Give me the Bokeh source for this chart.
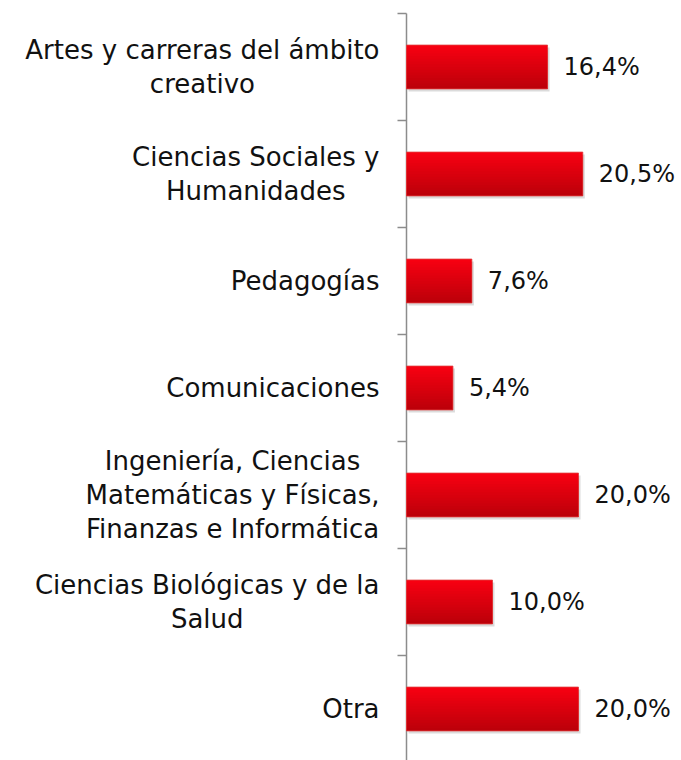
from bokeh.plotting import figure
from bokeh.models import Range1d, ColumnDataSource
from bokeh.core.properties import value
from bokeh.embed import file_html
from bokeh.resources import INLINE

categories = [
    "Artes y carreras del ámbito\ncreativo",
    "Ciencias Sociales y\nHumanidades",
    "Pedagogías",
    "Comunicaciones",
    "Ingeniería, Ciencias\nMatemáticas y Físicas,\nFinanzas e Informática",
    "Ciencias Biológicas y de la\nSalud",
    "Otra",
]
values = [16.4, 20.5, 7.6, 5.4, 20.0, 10.0, 20.0]
value_labels = ["16,4%", "20,5%", "7,6%", "5,4%", "20,0%", "10,0%", "20,0%"]

W, H = 681, 760
px_per_unit = 8.6
zero_px = 406
band_px = 107.0
top_px = 13

n = len(categories)
ypos = list(range(n))
x_range = Range1d(-zero_px / px_per_unit, (W - zero_px) / px_per_unit)
y_top = -0.5 - top_px / band_px
y_bottom = y_top + H / band_px
y_range = Range1d(start=y_bottom, end=y_top)

p = figure(width=W, height=H, x_range=x_range, y_range=y_range,
           x_axis_type=None, y_axis_type=None, toolbar_location=None,
           output_backend="svg", min_border=0)
p.grid.visible = False
p.outline_line_color = None
p.background_fill_color = "white"
p.border_fill_color = "white"

# axis line and ticks at band boundaries
bounds = [i - 0.5 for i in range(n + 1)]
tick_len = 9 / px_per_unit
p.segment(x0=[0], x1=[0], y0=[bounds[0]], y1=[bounds[-1] + 0.2], line_color="#8c8c8c", line_width=1.5)
p.segment(x0=[-tick_len] * len(bounds), x1=[0] * len(bounds), y0=bounds, y1=bounds,
          line_color="#8c8c8c", line_width=1.5)

bar_h = 0.41
# soft shadow
sh_dx = 2 / px_per_unit
sh_dy = 2.5 / band_px
p.hbar(y=[y + sh_dy for y in ypos], left=sh_dx, right=[v + sh_dx for v in values], height=bar_h,
       fill_color="#b0b0b0", fill_alpha=0.45, line_color=None)

# vertical gradient: overlapping strips, each extends to the bar bottom
steps = 16
c_top = (247, 0, 17)
c_bot = (188, 0, 10)
for k in range(steps):
    t = k / (steps - 1)
    col = "#%02x%02x%02x" % tuple(int(round(a + (b - a) * t)) for a, b in zip(c_top, c_bot))
    h = bar_h * (1 - k / steps)
    ys = [y + bar_h / 2 - h / 2 for y in ypos]
    p.hbar(y=ys, left=0, right=values, height=h, fill_color=col, line_color=None)
p.hbar(y=ypos, left=0, right=values, height=bar_h, fill_color=None, line_color="#e03c3c",
       line_width=1, line_alpha=0.8)

src = ColumnDataSource(dict(y=ypos, x=values, lab=value_labels, cat=categories,
                            zero=[0] * n))
p.text(x="x", y="y", text="lab", source=src, x_offset=16, text_align="left",
       text_baseline="middle", text_font=value("DejaVu Sans"), text_font_size="24px",
       text_color="#111111")
p.text(x="zero", y="y", text="cat", source=src, x_offset=-27, anchor="center_right",
       text_align="center", text_baseline="middle", text_font=value("DejaVu Sans"),
       text_font_size="26px", text_line_height=1.13, text_color="#111111")

open("out.html", "w").write(file_html(p, INLINE))
